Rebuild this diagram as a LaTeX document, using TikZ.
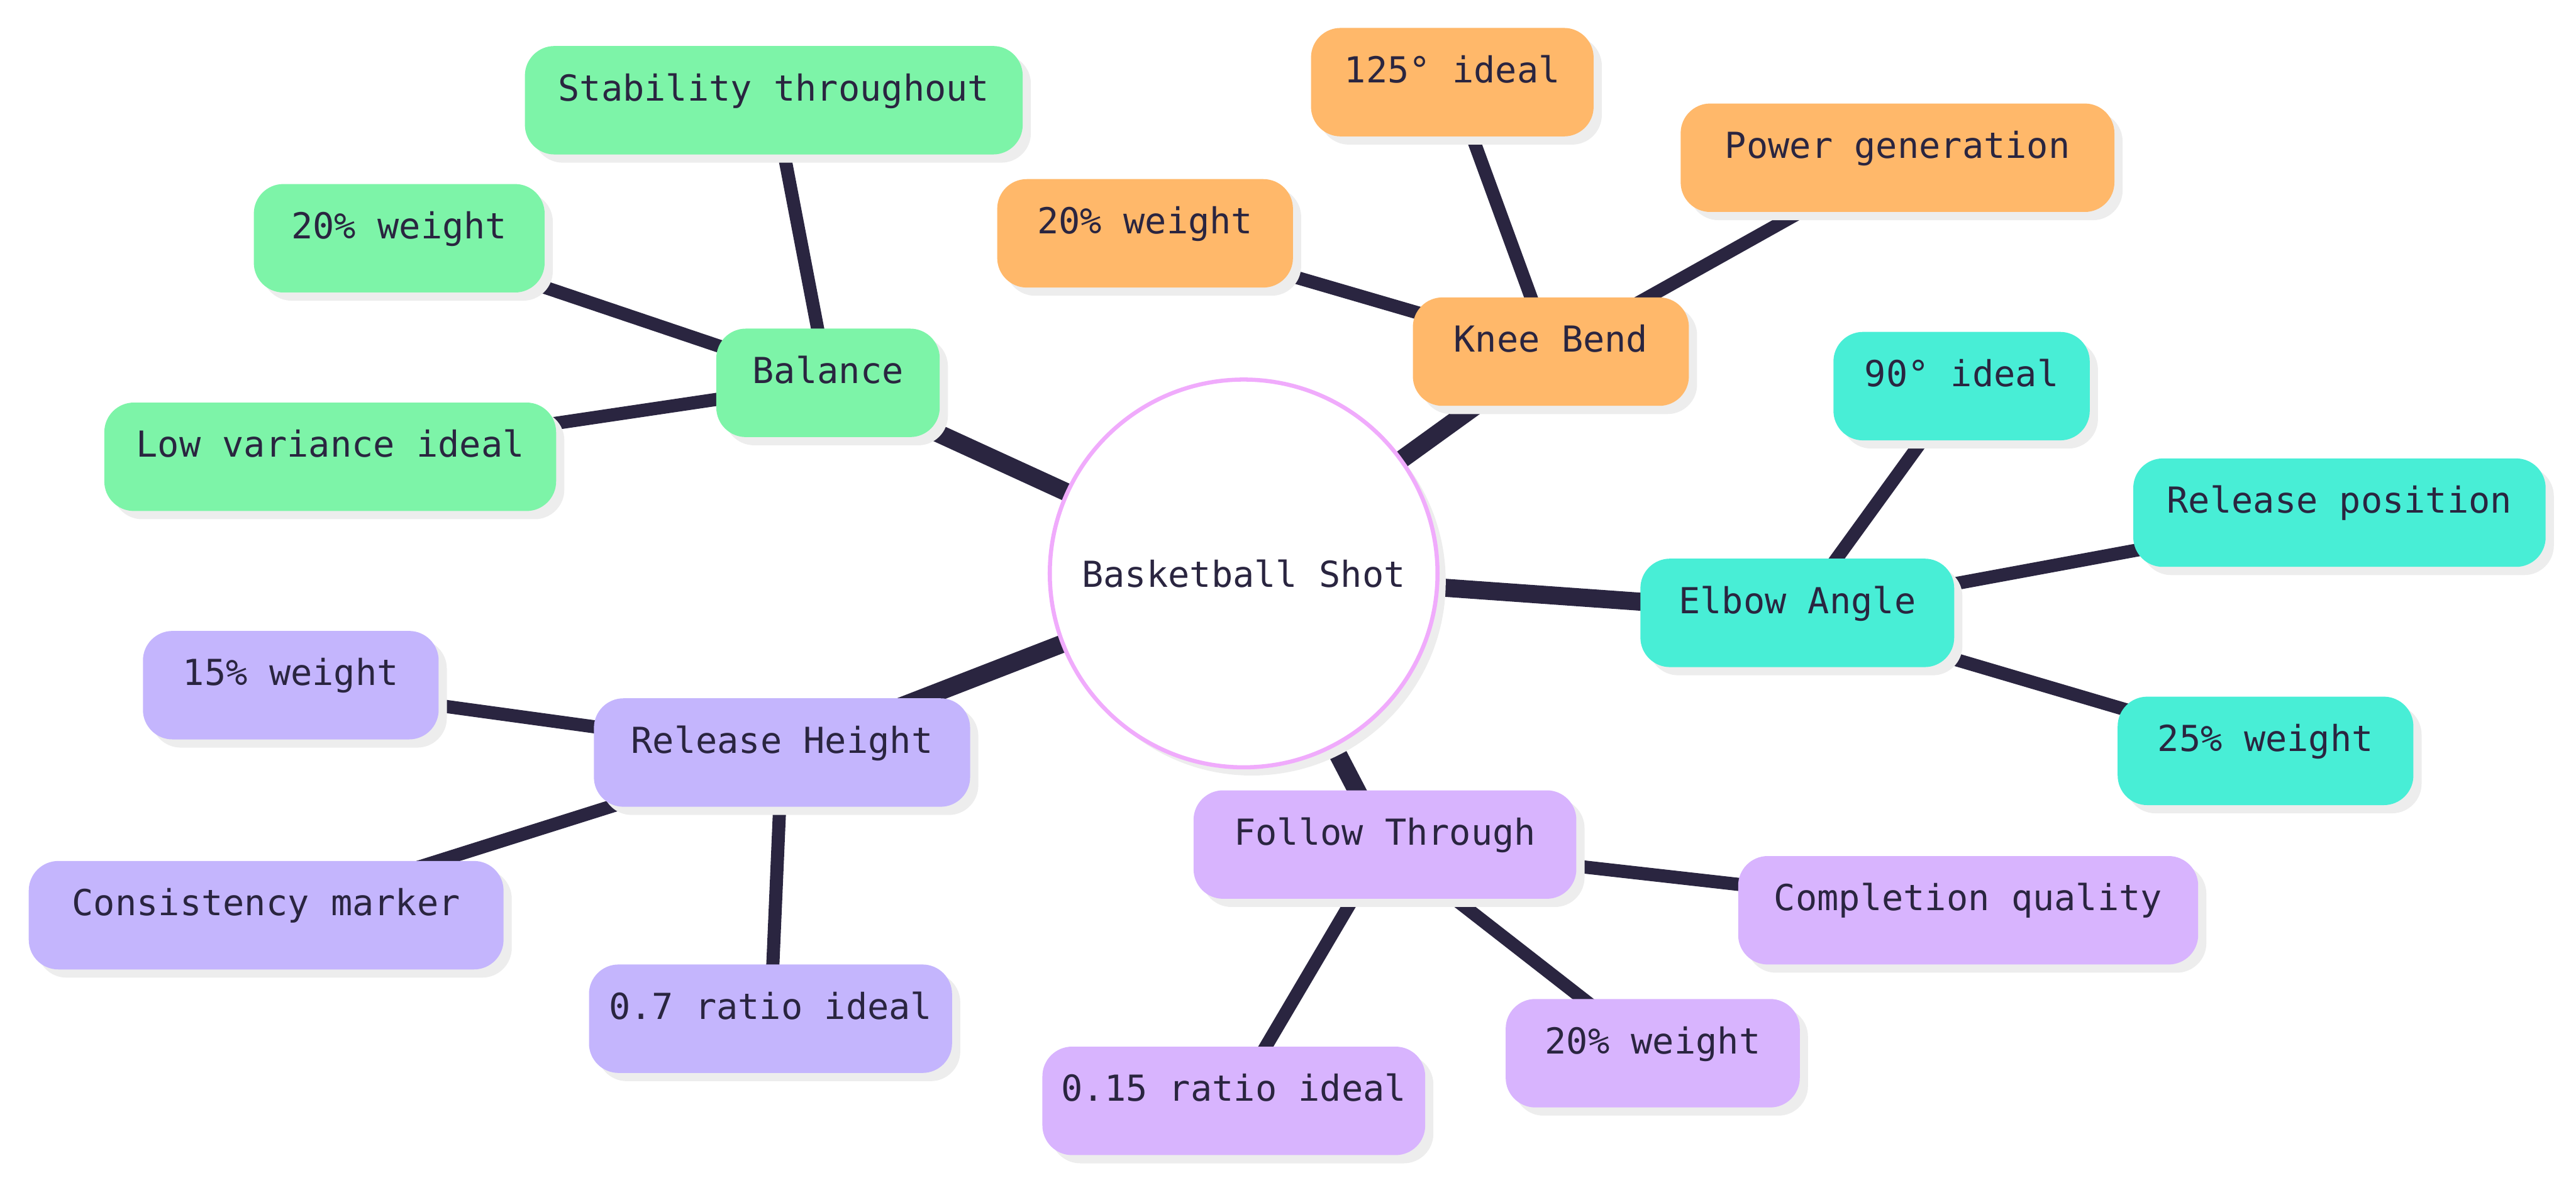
\documentclass[tikz,border=0pt]{standalone}
\usepackage{fontspec}
\setmainfont{DejaVu Sans Mono}
\usetikzlibrary{shadows,backgrounds}

\definecolor{inkdark}{HTML}{2A2540}
\definecolor{hubpink}{HTML}{F0ABFC}
\definecolor{balgreen}{HTML}{7DF4A8}
\definecolor{kneeorange}{HTML}{FFB86A}
\definecolor{elbowteal}{HTML}{48EED6}
\definecolor{heightlav}{HTML}{C4B5FD}
\definecolor{followlil}{HTML}{D8B4FE}

\tikzset{
  pill/.style={rounded corners=18pt, minimum height=66pt, inner xsep=8pt,
    text height=1em, text depth=0.95em, text=inkdark,
    font=\fontsize{21.8}{25}\selectfont,
    drop shadow={shadow xshift=5pt, shadow yshift=-5pt, fill=black!7, opacity=1}},
  hub/.style={circle, draw=hubpink, line width=2.5pt, fill=white, minimum size=236pt,
    inner sep=0pt, text=inkdark, font=\fontsize{21.8}{25}\selectfont,
    drop shadow={shadow xshift=5pt, shadow yshift=-5pt, fill=black!7, opacity=1}},
  limb/.style={line width=11pt, draw=inkdark},
  twig/.style={line width=8pt, draw=inkdark}
}

\begin{document}
\begin{tikzpicture}[x=1pt,y=-1pt]
  \useasboundingbox (0,0) rectangle (1568,721);

  % Centro
  \node[hub] (shot) at (757,349) {Basketball Shot};

  % Balance
  \node[pill, fill=balgreen, minimum width=136pt] (bal) at (504,233) {Balance};
  \node[pill, fill=balgreen, minimum width=303pt] (bal1) at (471,61) {Stability throughout};
  \node[pill, fill=balgreen, minimum width=177pt] (bal2) at (243,145) {20\% weight};
  \node[pill, fill=balgreen, minimum width=275pt] (bal3) at (201,278) {Low variance ideal};

  % Knee Bend
  \node[pill, fill=kneeorange, minimum width=168pt] (knee) at (944,214) {Knee Bend};
  \node[pill, fill=kneeorange, minimum width=172pt] (knee1) at (884,50) {125° ideal};
  \node[pill, fill=kneeorange, minimum width=264pt] (knee2) at (1155,96) {Power generation};
  \node[pill, fill=kneeorange, minimum width=180pt] (knee3) at (697,142) {20\% weight};

  % Elbow Angle
  \node[pill, fill=elbowteal, minimum width=191pt] (elb) at (1094,373) {Elbow Angle};
  \node[pill, fill=elbowteal, minimum width=156pt] (elb1) at (1194,235) {90° ideal};
  \node[pill, fill=elbowteal, minimum width=251pt] (elb2) at (1424,312) {Release position};
  \node[pill, fill=elbowteal, minimum width=180pt] (elb3) at (1379,457) {25\% weight};

  % Release Height
  \node[pill, fill=heightlav, minimum width=229pt] (rel) at (476,458) {Release Height};
  \node[pill, fill=heightlav, minimum width=180pt] (rel1) at (177,417) {15\% weight};
  \node[pill, fill=heightlav, minimum width=289pt] (rel2) at (162,557) {Consistency marker};
  \node[pill, fill=heightlav, minimum width=221pt] (rel3) at (469,620) {0.7 ratio ideal};

  % Follow Through
  \node[pill, fill=followlil, minimum width=233pt] (fol) at (843,514) {Follow Through};
  \node[pill, fill=followlil, minimum width=280pt] (fol1) at (1198,554) {Completion quality};
  \node[pill, fill=followlil, minimum width=179pt] (fol2) at (1006,641) {20\% weight};
  \node[pill, fill=followlil, minimum width=233pt] (fol3) at (751,670) {0.15 ratio ideal};

  % Aristas
  \begin{scope}[on background layer]
    \foreach \to in {bal, knee, elb, rel, fol}
      \draw[limb] (shot.center) -- (\to.center);
    \foreach \from/\to in {bal/bal1, bal/bal2, bal/bal3, knee/knee1, knee/knee2, knee/knee3,
        elb/elb1, elb/elb2, elb/elb3, rel/rel1, rel/rel2, rel/rel3,
        fol/fol1, fol/fol2, fol/fol3}
      \draw[twig] (\from.center) -- (\to.center);
  \end{scope}
\end{tikzpicture}
\end{document}
